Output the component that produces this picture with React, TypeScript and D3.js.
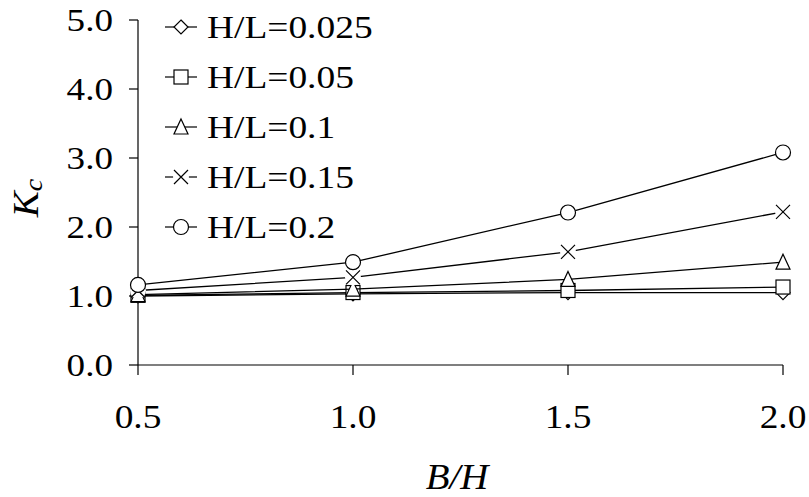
import * as d3 from 'd3';

const ratios = [0.5, 1.0, 1.5, 2.0];
const seriesNames = ['H/L=0.025', 'H/L=0.05', 'H/L=0.1', 'H/L=0.15', 'H/L=0.2'];
const seriesKinds = ['diamond', 'square', 'triangle', 'cross', 'circle'];
const kc0025 = [1.0, 1.03, 1.05, 1.05];
const kc005 = [1.01, 1.05, 1.08, 1.13];
const kc01 = [1.02, 1.1, 1.24, 1.49];
const kc015 = [1.08, 1.27, 1.64, 2.22];
const kc02 = [1.16, 1.49, 2.21, 3.08];
const seriesValues = [kc0025, kc005, kc01, kc015, kc02];
const yTicks = [0, 1, 2, 3, 4, 5];

const W = 809;
const H = 497;
const FONT = 'Liberation Serif';

function Marker({ kind, x, y }: { kind: string; x: number; y: number }) {
  const s = 7;
  const common = { fill: 'white', stroke: 'black', strokeWidth: 1.2 };
  if (kind === 'diamond')
    return <path d={`M${x},${y - s}L${x + s},${y}L${x},${y + s}L${x - s},${y}Z`} {...common} />;
  if (kind === 'square')
    return <rect x={x - s} y={y - s} width={2 * s} height={2 * s} {...common} />;
  if (kind === 'triangle')
    return <path d={`M${x},${y - s - 1}L${x + s},${y + s}L${x - s},${y + s}Z`} {...common} />;
  if (kind === 'cross')
    return (
      <g>
        <circle cx={x} cy={y} r={s + 1} fill="white" />
        <path d={`M${x - s},${y - s}L${x + s},${y + s}M${x - s},${y + s}L${x + s},${y - s}`} stroke="black" strokeWidth={1.2} />
      </g>
    );
  return <circle cx={x} cy={y} r={s + 0.5} {...common} />;
}

export default function App() {
  const x = d3.scaleLinear().domain([0.5, 2.0]).range([138, 783]);
  const y = d3.scaleLinear().domain([0, 5]).range([365, 20]);
  const line = d3.line<number>().x((_, i) => x(ratios[i])).y((d) => y(d));

  return (
    <svg width={W} height={H} style={{ position: 'absolute', left: 0, top: 0, background: 'white' }}>
      <rect width={W} height={H} fill="white" />
      {/* axes */}
      <line x1={x(0.5)} x2={x(0.5)} y1={y(5)} y2={y(0)} stroke="black" strokeWidth={1.2} />
      <line x1={x(0.5)} x2={x(2.0)} y1={y(0)} y2={y(0)} stroke="black" strokeWidth={1.2} />
      {yTicks.map((t) => (
        <g key={t}>
          <line x1={x(0.5) - 9} x2={x(0.5)} y1={y(t)} y2={y(t)} stroke="black" strokeWidth={1.2} />
          <text fontFamily={FONT} transform={`translate(113,${y(t) + 11}) scale(1.16,1)`} textAnchor="end" fontSize={32}>
            {d3.format('.1f')(t)}
          </text>
        </g>
      ))}
      {ratios.map((r) => (
        <g key={r}>
          <line x1={x(r)} x2={x(r)} y1={y(0)} y2={y(0) + 10} stroke="black" strokeWidth={1.2} />
          <text fontFamily={FONT} transform={`translate(${x(r)},428) scale(1.1,1)`} textAnchor="middle" fontSize={34}>
            {d3.format('.1f')(r)}
          </text>
        </g>
      ))}
      <text fontFamily={FONT} transform="translate(457,489) scale(1.08,1)" textAnchor="middle" fontSize={36} fontStyle="italic">B/H</text>
      <text fontFamily={FONT} transform="translate(38,198) rotate(-90) scale(1.08,1)" textAnchor="middle" fontSize={36} fontStyle="italic">
        K<tspan fontSize={26} dy={4}>c</tspan>
      </text>
      {/* series */}
      {seriesValues.map((vals, si) => (
        <g key={si}>
          <path d={line(vals) ?? ''} fill="none" stroke="black" strokeWidth={1.3} />
          {vals.map((v, i) => (
            <Marker key={i} kind={seriesKinds[si]} x={x(ratios[i])} y={y(v)} />
          ))}
        </g>
      ))}
      {/* legend */}
      {seriesNames.map((name, i) => {
        const cy = 27 + i * 50;
        return (
          <g key={name}>
            <line x1={165} x2={197} y1={cy} y2={cy} stroke="black" strokeWidth={1.2} />
            <Marker kind={seriesKinds[i]} x={181} y={cy} />
            <text fontFamily={FONT} transform={`translate(207,${cy + 11}) scale(1.17,1)`} fontSize={32}>{name}</text>
          </g>
        );
      })}
    </svg>
  );
}
